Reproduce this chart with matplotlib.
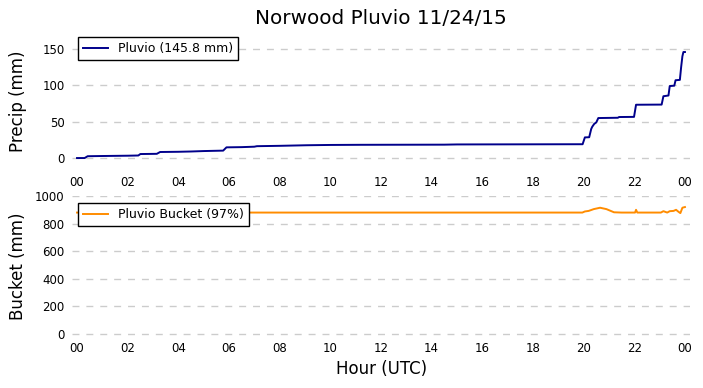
import matplotlib
matplotlib.use('Agg')
import matplotlib.pyplot as plt

# 累计降水 (mm) 与桶重 (mm)，按小时 (UTC)
precip_hours = [0.0, 0.30, 0.42, 1.0, 2.0, 2.42, 2.50, 3.15, 3.28, 4.0, 4.5, 5.0,
                5.77, 5.90, 6.5, 7.0, 7.1, 8.0, 9.07, 10.0, 11.2, 14.5, 15.0,
                19.96, 20.05, 20.22, 20.30, 20.34, 20.42, 20.50, 20.58, 21.35,
                21.40, 21.99, 22.07, 23.08, 23.15, 23.35, 23.40, 23.58, 23.63,
                23.80, 23.85, 23.90, 23.94, 24.0]
precip_mm = [0, 0, 2.5, 2.8, 3.2, 3.5, 5.5, 5.8, 8.3, 8.6, 9.0, 9.6,
             10.2, 14.7, 15.0, 15.6, 16.3, 16.8, 17.6, 18.0, 18.2, 18.4, 18.7,
             19.0, 28.4, 28.6, 40, 43, 47, 49, 55, 55.4,
             56.4, 56.6, 73.3, 73.5, 85, 86, 99, 99.5, 107,
             107.5, 125, 140, 145.8, 145.8]

bucket_hours = [0.0, 19.95, 20.05, 20.2, 20.4, 20.65, 20.9, 21.2, 21.5, 22.03,
                22.07, 22.12, 23.05, 23.15, 23.3, 23.4, 23.55, 23.65, 23.75,
                23.82, 23.9, 24.0]
bucket_mm = [880, 880, 888, 892, 905, 915, 905, 882, 880, 880,
             900, 880, 880, 890, 880, 890, 892, 900, 885,
             876, 915, 920]

tick_hours = list(range(0, 25, 2))
tick_labels = ['%02d' % (h % 24) for h in tick_hours]

W, H = 703, 388
fig = plt.figure(figsize=(W / 100, H / 100), dpi=100)

# 轴位置（像素换算）
ax1 = fig.add_axes([71.7 / W, 1 - 170.4 / H, 618.3 / W, 128.7 / H])
ax2 = fig.add_axes([71.7 / W, 1 - 336.8 / H, 618.3 / W, 140.8 / H])

ax1.plot(precip_hours, precip_mm, color='#00008B', linewidth=1.4,
         label='Pluvio (145.8 mm)')
ax2.plot(bucket_hours, bucket_mm, color='darkorange', linewidth=1.4,
         label='Pluvio Bucket (97%)')

ax1.set_ylim(-17, 160)
ax1.set_yticks([0, 50, 100, 150])
ax2.set_ylim(-20, 1000)
ax2.set_yticks([0, 200, 400, 600, 800, 1000])

for ax in (ax1, ax2):
    ax.set_xlim(-0.21, 24.2)
    ax.set_xticks(tick_hours)
    ax.set_xticklabels(tick_labels)
    for s in ax.spines.values():
        s.set_visible(False)
    ax.grid(axis='y', color='#cccccc', linestyle=(0, (5, 5)), linewidth=1)
    ax.set_axisbelow(True)
    ax.tick_params(axis='y', length=0, pad=5, labelsize=8.5)
    ax.tick_params(axis='x', length=0, pad=4, labelsize=8.5)

leg1 = ax1.legend(loc='upper left', bbox_to_anchor=(0.01, 1.0365), borderaxespad=0,
                  fancybox=False, framealpha=1, edgecolor='black', fontsize=9)
leg1.get_frame().set_linewidth(1.0)
leg2 = ax2.legend(loc='upper left', bbox_to_anchor=(0.01, 0.95), borderaxespad=0,
                  fancybox=False, framealpha=1, edgecolor='black', fontsize=9)
leg2.get_frame().set_linewidth(1.0)

fig.text(380.9 / W, 1 - 19 / H, 'Norwood Pluvio 11/24/15', ha='center', va='center',
         fontsize=14.4)
fig.text(18 / W, 1 - 101 / H, 'Precip (mm)', rotation=90, ha='center', va='center',
         fontsize=12)
fig.text(18 / W, 1 - 266 / H, 'Bucket (mm)', rotation=90, ha='center', va='center',
         fontsize=12)
fig.text(381.5 / W, 1 - 369 / H, 'Hour (UTC)', ha='center', va='center', fontsize=12)

fig.savefig('out.png', dpi=100, facecolor='white')
